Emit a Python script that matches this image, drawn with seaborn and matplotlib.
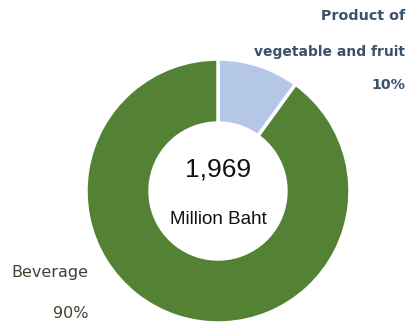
import matplotlib
matplotlib.use("Agg")
import matplotlib.pyplot as plt
import seaborn as sns

sns.set_theme(style="white")
plt.rcParams['font.family'] = ['Liberation Sans', 'DejaVu Sans']

categories = ["Product of\nvegetable and fruit", "Beverage"]
shares = [10, 90]
total_label = "1,969"
unit_label = "Million Baht"
colors = ["#B4C7E7", "#548235"]

W, H = 411, 326
fig = plt.figure(figsize=(W / 100, H / 100), dpi=100)
ax = fig.add_axes([0, 0, 1, 1])
R = 132.0
cx, cy = 218.0, 326 - 191.0

wedges, _ = ax.pie(shares, colors=colors, startangle=90, counterclock=False,
                   radius=1.0, wedgeprops=dict(width=0.485, edgecolor="white", linewidth=2.5))
ax.set_xlim(-cx / R, (W - cx) / R)
ax.set_ylim(-cy / R, (H - cy) / R)
ax.set_aspect("auto")
ax.axis("off")

def px(x, y):
    return ((x - cx) / R, ((H - y) - cy) / R)

tc_blue = "#3A506B"
tc_green = "#3A4530"
lab = dict(ha="right", va="center", family="DejaVu Sans")
ax.text(*px(405, 16), "Product of", color=tc_blue, fontweight="semibold", fontsize=10.3, **lab)
ax.text(*px(405, 52), "vegetable and fruit", color=tc_blue, fontweight="semibold", fontsize=10, **lab)
ax.text(*px(405, 85), f"{shares[0]}%", color=tc_blue, fontweight="semibold", fontsize=10.3, **lab)
ax.text(*px(88, 272), categories[1], color=tc_green, fontsize=11.5, **lab)
ax.text(*px(88, 313), f"{shares[1]}%", color=tc_green, fontsize=11.5, **lab)

ax.text(*px(218, 170), total_label, ha="center", va="center", fontsize=19, color="#111111")
ax.text(*px(218, 220), unit_label, ha="center", va="center", fontsize=13.5, color="#111111")

fig.savefig("out.png", dpi=100)
